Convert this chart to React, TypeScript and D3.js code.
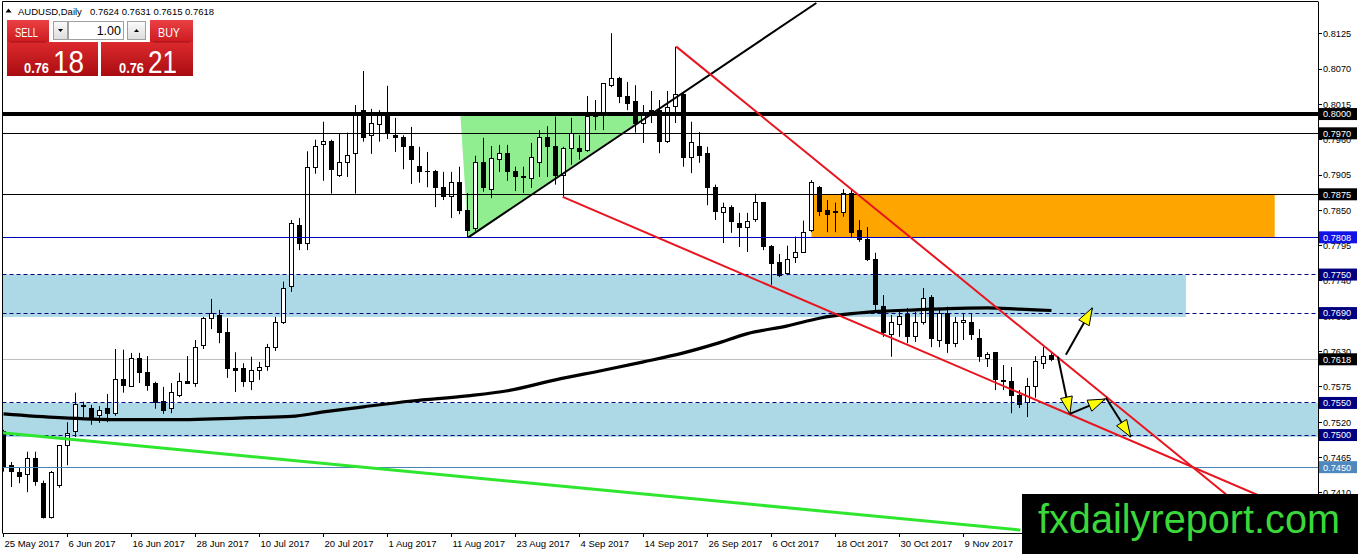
import React from 'react';
import * as d3 from 'd3';

const opens = [
  0.7505, 0.7452, 0.7441, 0.7438, 0.7464, 0.7425, 0.7371, 0.7422, 0.7484, 0.7505,
  0.7544, 0.7542, 0.7530, 0.7541, 0.7534, 0.7587, 0.7575, 0.7619, 0.7598, 0.7580,
  0.7552, 0.7541, 0.7561, 0.7584, 0.7581, 0.7640, 0.7682, 0.7686, 0.7659, 0.7603,
  0.7603, 0.7584, 0.7600, 0.7606, 0.7637, 0.7676, 0.7731, 0.7827, 0.7799, 0.7917,
  0.7953, 0.7957, 0.7905, 0.7924, 0.7938, 0.8005, 0.7967, 0.7983, 0.8000, 0.7966,
  0.7964, 0.7949, 0.7918, 0.7910, 0.7911, 0.7886, 0.7871, 0.7893, 0.7849, 0.7821,
  0.7924, 0.7883, 0.7929, 0.7938, 0.7910, 0.7901, 0.7900, 0.7924, 0.7963, 0.7949,
  0.7904, 0.7946, 0.7946, 0.7943, 0.7996, 0.8003, 0.8045, 0.8056, 0.8027, 0.8019,
  0.7986, 0.8006, 0.8006, 0.7958, 0.8011, 0.8031, 0.7932, 0.7950, 0.7938, 0.7885,
  0.7846, 0.7855, 0.7830, 0.7824, 0.7835, 0.7862, 0.7793, 0.7768, 0.7751, 0.7776,
  0.7785, 0.7818, 0.7886, 0.7849, 0.7847, 0.7846, 0.7877, 0.7818, 0.7804, 0.7773,
  0.7701, 0.7656, 0.7672, 0.7687, 0.7653, 0.7675, 0.7714, 0.7648, 0.7689, 0.7643,
  0.7675, 0.7676, 0.7651, 0.7620, 0.7628, 0.7584, 0.7583, 0.7562, 0.7550, 0.7575,
  0.7612, 0.7624,
];
const highs = [
  0.7508, 0.7458, 0.7449, 0.7474, 0.7474, 0.7429, 0.7444, 0.7484, 0.7520, 0.7566,
  0.7552, 0.7547, 0.7545, 0.7564, 0.7634, 0.7633, 0.7628, 0.7628, 0.7623, 0.7583,
  0.7575, 0.7581, 0.7597, 0.7623, 0.7648, 0.7684, 0.7712, 0.7695, 0.7682, 0.7629,
  0.7612, 0.7622, 0.7614, 0.7642, 0.7684, 0.7739, 0.7835, 0.7838, 0.7942, 0.7960,
  0.7988, 0.7960, 0.7969, 0.7971, 0.8014, 0.8067, 0.8008, 0.8006, 0.8044, 0.7994,
  0.7967, 0.7980, 0.7949, 0.7941, 0.7913, 0.7910, 0.7910, 0.7918, 0.7877, 0.7935,
  0.7963, 0.7950, 0.7952, 0.7952, 0.7918, 0.7918, 0.7955, 0.7975, 0.7981, 0.7996,
  0.7949, 0.7994, 0.7967, 0.8028, 0.8022, 0.8048, 0.8126, 0.8058, 0.8050, 0.8045,
  0.8014, 0.8036, 0.8022, 0.8036, 0.8105, 0.8034, 0.7988, 0.7972, 0.7949, 0.7890,
  0.7862, 0.7858, 0.7846, 0.7846, 0.7876, 0.7863, 0.7796, 0.7782, 0.7795, 0.7809,
  0.7834, 0.7897, 0.7888, 0.7866, 0.7862, 0.7883, 0.7882, 0.7835, 0.7824, 0.7784,
  0.7718, 0.7687, 0.7695, 0.7698, 0.7692, 0.7729, 0.7718, 0.7698, 0.7700, 0.7684,
  0.7690, 0.7690, 0.7665, 0.7629, 0.7629, 0.7609, 0.7606, 0.7570, 0.7589, 0.7623,
  0.7637, 0.7631,
];
const lows = [
  0.7443, 0.7419, 0.7425, 0.7411, 0.7421, 0.7370, 0.7370, 0.7418, 0.7453, 0.7497,
  0.7524, 0.7516, 0.7519, 0.7520, 0.7530, 0.7566, 0.7575, 0.7581, 0.7569, 0.7541,
  0.7533, 0.7534, 0.7559, 0.7580, 0.7575, 0.7634, 0.7665, 0.7643, 0.7589, 0.7567,
  0.7575, 0.7570, 0.7586, 0.7600, 0.7631, 0.7673, 0.7723, 0.7788, 0.7788, 0.7907,
  0.7896, 0.7876, 0.7902, 0.7902, 0.7876, 0.7957, 0.7938, 0.7957, 0.7961, 0.7941,
  0.7914, 0.7891, 0.7893, 0.7886, 0.7855, 0.7866, 0.7838, 0.7844, 0.7807, 0.7818,
  0.7879, 0.7869, 0.7910, 0.7896, 0.7880, 0.7877, 0.7885, 0.7902, 0.7902, 0.7890,
  0.7871, 0.7921, 0.7929, 0.7941, 0.7975, 0.7975, 0.8042, 0.8017, 0.8006, 0.7971,
  0.7955, 0.7986, 0.7939, 0.7955, 0.7986, 0.7918, 0.7908, 0.7924, 0.7858, 0.7835,
  0.7799, 0.7815, 0.7793, 0.7785, 0.7832, 0.7788, 0.7734, 0.7746, 0.7749, 0.7768,
  0.7784, 0.7816, 0.7841, 0.7816, 0.7816, 0.7840, 0.7807, 0.7801, 0.7771, 0.7692,
  0.7653, 0.7622, 0.7653, 0.7643, 0.7645, 0.7672, 0.7637, 0.7637, 0.7628, 0.7637,
  0.7648, 0.7648, 0.7614, 0.7606, 0.7570, 0.7570, 0.7534, 0.7542, 0.7528, 0.7558,
  0.7603, 0.7615,
];
const closes = [
  0.7450, 0.7444, 0.7435, 0.7463, 0.7427, 0.7371, 0.7441, 0.7484, 0.7503, 0.7548,
  0.7546, 0.7527, 0.7538, 0.7533, 0.7586, 0.7577, 0.7620, 0.7597, 0.7577, 0.7550,
  0.7539, 0.7566, 0.7583, 0.7581, 0.7637, 0.7682, 0.7689, 0.7659, 0.7604, 0.7601,
  0.7583, 0.7600, 0.7605, 0.7637, 0.7676, 0.7729, 0.7830, 0.7799, 0.7916, 0.7950,
  0.7957, 0.7914, 0.7924, 0.7935, 0.8003, 0.7964, 0.7985, 0.7999, 0.7969, 0.7964,
  0.7949, 0.7929, 0.7910, 0.7911, 0.7886, 0.7872, 0.7894, 0.7849, 0.7818, 0.7924,
  0.7885, 0.7930, 0.7939, 0.7910, 0.7902, 0.7903, 0.7933, 0.7963, 0.7949, 0.7904,
  0.7946, 0.7969, 0.7941, 0.7996, 0.8000, 0.8048, 0.8056, 0.8027, 0.8017, 0.7986,
  0.7999, 0.8003, 0.7958, 0.8010, 0.8030, 0.7932, 0.7955, 0.7936, 0.7886, 0.7848,
  0.7855, 0.7832, 0.7824, 0.7832, 0.7862, 0.7793, 0.7767, 0.7749, 0.7774, 0.7785,
  0.7816, 0.7893, 0.7848, 0.7843, 0.7848, 0.7877, 0.7815, 0.7804, 0.7774, 0.7703,
  0.7659, 0.7675, 0.7684, 0.7653, 0.7675, 0.7712, 0.7650, 0.7689, 0.7642, 0.7675,
  0.7678, 0.7656, 0.7622, 0.7626, 0.7586, 0.7585, 0.7562, 0.7547, 0.7575, 0.7615,
  0.7623, 0.7618,
];

const dateLabels = ['25 May 2017', '6 Jun 2017', '16 Jun 2017', '28 Jun 2017', '10 Jul 2017', '20 Jul 2017',
  '1 Aug 2017', '11 Aug 2017', '23 Aug 2017', '4 Sep 2017', '14 Sep 2017', '26 Sep 2017', '6 Oct 2017',
  '18 Oct 2017', '30 Oct 2017', '9 Nov 2017'];
const dateBars = [0, 8, 16, 24, 32, 40, 48, 56, 64, 72, 80, 88, 96, 104, 112, 120];

const priceTicks = [0.8125, 0.8070, 0.8015, 0.7960, 0.7905, 0.7850, 0.7795, 0.7740, 0.7685, 0.7630,
  0.7575, 0.7520, 0.7465, 0.7410];

const levelPrices = [0.8000, 0.7970, 0.7875, 0.7808, 0.7750, 0.7690, 0.7618, 0.7550, 0.7500, 0.7450];
const levelKinds = ['thick', 'thin', 'thin', 'blue', 'dash', 'dash', 'bid', 'dash', 'dash', 'steel'];

const maBars = [0, 7, 14, 21, 31, 36, 40, 45, 51, 58, 63, 69, 75, 80, 85, 89, 93, 98, 102, 106, 110, 114, 118, 123, 127, 131];
const maValues = [0.7533, 0.7527, 0.7524, 0.7524, 0.7527, 0.7529, 0.7536, 0.7544, 0.7553, 0.7561, 0.7569, 0.7586,
  0.7601, 0.7614, 0.7628, 0.7642, 0.7658, 0.7670, 0.7682, 0.7689, 0.7693, 0.7695, 0.7697, 0.7698, 0.7696, 0.7694];

// zones: [barFrom, barTo], [priceTop, priceBottom]
const zoneBars = [[-1, 147.8], [-1, 170], [101.0, 158.9]];
const zonePrices = [[0.7750, 0.7684], [0.7550, 0.7497], [0.7875, 0.7808]];
const zoneKinds = ['blue', 'blue', 'orange'];

const triangleBars = [57.1, 58.1, 80.7];
const trianglePrices = [0.8000, 0.7808, 0.8000];

const trendBars = [[58.1, 101.6], [84.1, 158], [69.9, 160.8], [-0.5, 127.1]];
const trendPrices = [[0.7808, 0.8173], [0.8105, 0.7355], [0.7871, 0.7385], [0.7504, 0.7352]];
const trendKinds = ['black', 'red', 'red', 'green'];

const arrowFromBars = [132.8, 131.8, 133.3, 137.8];
const arrowFromPrices = [0.7625, 0.7622, 0.7533, 0.7558];
const arrowToBars = [136.1, 133.3, 137.7, 140.9];
const arrowToPrices = [0.7698, 0.7533, 0.7556, 0.7497];

const FONT = 'Liberation Sans, Arial, sans-serif';

export default function App() {
  const x = d3.scaleLinear().domain([0, 131]).range([3.5, 1051.5]);
  const y = d3.scaleLinear().domain([0.8125, 0.7410]).range([33.8, 492.83]);
  const PL = 2.5, PR = 1318, PT = 1.5, PB = 533;
  const snap = (v: number) => Math.round(v - 0.5) + 0.5;

  const maPath = d3.line<number>()
    .x((_, k) => x(maBars[k]))
    .y((d) => y(d))
    .curve(d3.curveMonotoneX)(maValues) || '';

  const levelStyle: Record<string, any> = {
    thick: { stroke: '#000', width: 4, dash: undefined, label: '#000' },
    thin: { stroke: '#000', width: 1, dash: undefined, label: '#000' },
    blue: { stroke: '#0000c0', width: 1, dash: undefined, label: '#1212e6' },
    dash: { stroke: '#000080', width: 1, dash: '4,3', label: '#000080' },
    bid: { stroke: '#c0c0c0', width: 1, dash: undefined, label: '#000' },
    steel: { stroke: '#4682b4', width: 1, dash: undefined, label: '#4f88bd' },
  };
  const zoneFill: Record<string, string> = { blue: '#add8e6', orange: '#ffa500' };
  const trendStyle: Record<string, any> = {
    black: { stroke: '#000', width: 2 },
    red: { stroke: '#e8141e', width: 2 },
    green: { stroke: '#2ee62e', width: 3 },
  };

  const candles = opens.map((o, i) => {
    const c = closes[i];
    const cx = x(i);
    const top = y(Math.max(o, c));
    const bot = y(Math.min(o, c));
    const bull = c >= o;
    const t = snap(top);
    let b = snap(bot);
    const flat = b - t < 1;
    return (
      <g key={i}>
        <line x1={cx} x2={cx} y1={y(highs[i])} y2={y(lows[i])} stroke="#000" strokeWidth={1} />
        {flat ? (
          <line x1={cx - 2.5} x2={cx + 2.5} y1={t} y2={t} stroke="#000" strokeWidth={1} />
        ) : (
          <rect x={cx - 2} y={t} width={4} height={b - t} fill={bull ? '#fff' : '#000'} stroke="#000" strokeWidth={1} />
        )}
      </g>
    );
  });

  const arrows = arrowFromBars.map((fb, k) => {
    const x1 = x(fb), y1 = y(arrowFromPrices[k]);
    const x2 = x(arrowToBars[k]), y2 = y(arrowToPrices[k]);
    const dx = x2 - x1, dy = y2 - y1;
    const len = Math.hypot(dx, dy);
    const ux = dx / len, uy = dy / len;
    const L = 17, Wd = 6;
    const bx = x2 - ux * L, by = y2 - uy * L;
    const pts = [
      [x2, y2],
      [bx - uy * Wd, by + ux * Wd],
      [bx + uy * Wd, by - ux * Wd],
    ];
    return (
      <g key={k}>
        <line x1={x1} y1={y1} x2={x2} y2={y2} stroke="#000" strokeWidth={2} />
        <polygon points={pts.map((p) => p.join(',')).join(' ')} fill="#ffff00" stroke="#000" strokeWidth={1} />
      </g>
    );
  });

  return (
    <svg width={1358} height={554} style={{ position: 'absolute', left: 0, top: 0, display: 'block', background: '#fff' }}
      fontFamily={FONT}>
      <defs>
        <clipPath id="plot">
          <rect x={PL} y={PT} width={PR - PL} height={PB - PT} />
        </clipPath>
        <linearGradient id="redBox" x1="0" y1="0" x2="0" y2="1">
          <stop offset="0" stopColor="#dc2a2e" />
          <stop offset="1" stopColor="#a90c10" />
        </linearGradient>
        <linearGradient id="redBtn" x1="0" y1="0" x2="0" y2="1">
          <stop offset="0" stopColor="#ea4044" />
          <stop offset="1" stopColor="#cc1c20" />
        </linearGradient>
        <linearGradient id="greyBtn" x1="0" y1="0" x2="0" y2="1">
          <stop offset="0" stopColor="#fbfbfb" />
          <stop offset="1" stopColor="#dcdcdc" />
        </linearGradient>
      </defs>

      <g clipPath="url(#plot)">
        {zoneBars.map((zb, k) => (
          <rect key={k} x={x(zb[0])} width={x(zb[1]) - x(zb[0])} y={y(zonePrices[k][0])}
            height={y(zonePrices[k][1]) - y(zonePrices[k][0])} fill={zoneFill[zoneKinds[k]]} />
        ))}
        <polygon points={triangleBars.map((b, k) => `${x(b)},${y(trianglePrices[k])}`).join(' ')} fill="#90ee90" />

        {levelPrices.map((p, k) => levelKinds[k] === 'bid' ? (
          <line key={k} x1={PL} x2={PR} y1={snap(y(p))} y2={snap(y(p))} stroke={levelStyle.bid.stroke} strokeWidth={1} />
        ) : null)}

        {candles}

        {levelPrices.map((p, k) => {
          const s = levelStyle[levelKinds[k]];
          if (levelKinds[k] === 'bid') return null;
          const yy = s.width === 4 ? y(p) : snap(y(p));
          return <line key={k} x1={PL} x2={PR} y1={yy} y2={yy} stroke={s.stroke} strokeWidth={s.width} strokeDasharray={s.dash} />;
        })}

        <path d={maPath} fill="none" stroke="#000" strokeWidth={3.2} strokeLinejoin="round" />

        {trendBars.map((tb, k) => {
          const s = trendStyle[trendKinds[k]];
          return <line key={k} x1={x(tb[0])} y1={y(trendPrices[k][0])} x2={x(tb[1])} y2={y(trendPrices[k][1])}
            stroke={s.stroke} strokeWidth={s.width} />;
        })}

        {arrows}
      </g>

      {/* frame & axes */}
      <line x1={PL} x2={PR} y1={PT} y2={PT} stroke="#000" strokeWidth={1} />
      <line x1={PL} x2={PL} y1={PT} y2={PB} stroke="#000" strokeWidth={1} />
      <line x1={PR + 0.5} x2={PR + 0.5} y1={PT} y2={PB + 4} stroke="#000" strokeWidth={1} />
      <line x1={PL} x2={PR + 0.5} y1={PB + 0.5} y2={PB + 0.5} stroke="#000" strokeWidth={1} />

      {priceTicks.map((p, k) => (
        <g key={k}>
          <line x1={PR + 0.5} x2={PR + 4} y1={snap(y(p))} y2={snap(y(p))} stroke="#000" strokeWidth={1} />
          <text x={1323} y={y(p) + 3.3} fontSize={9.2} fill="#000">{p.toFixed(4)}</text>
        </g>
      ))}

      {dateBars.map((b, k) => (
        <g key={k}>
          <line x1={x(b)} x2={x(b)} y1={PB + 0.5} y2={PB + 4} stroke="#000" strokeWidth={1} />
          <text x={x(b) + 1} y={546.5} fontSize={9.5} fill="#000">{dateLabels[k]}</text>
        </g>
      ))}

      {levelPrices.map((p, k) => {
        const s = levelStyle[levelKinds[k]];
        const cy = y(p);
        return (
          <g key={k}>
            <rect x={1319} y={cy - 6} width={38} height={12} fill={s.label} />
            <text x={1323} y={cy + 3.4} fontSize={9.2} fill="#fff">{p.toFixed(4)}</text>
          </g>
        );
      })}

      {/* header */}
      <path d="M5.5,12.5 L8.5,8.5 L11.5,12.5 Z" fill="#000" />
      <text x={18} y={14.5} fontSize={9.5} fill="#000">AUDUSD,Daily</text>
      <text x={90} y={14.5} fontSize={9.5} fill="#000">
        {[opens[131], highs[131], lows[131], closes[131]].map((v) => v.toFixed(4)).join(' ')}
      </text>

      {/* trade panel */}
      <rect x={7} y={20} width={42} height={22} fill="url(#redBtn)" />
      <rect x={7} y={42} width={91} height={34} fill="url(#redBox)" />
      <line x1={10} x2={46} y1={42} y2={42} stroke="#a01014" strokeWidth={1} />
      <rect x={150} y={20} width={43} height={22} fill="url(#redBtn)" />
      <rect x={101} y={42} width={92} height={34} fill="url(#redBox)" />
      <line x1={153} x2={190} y1={42} y2={42} stroke="#a01014" strokeWidth={1} />
      <rect x={53.5} y={21.5} width={14} height={18} fill="url(#greyBtn)" stroke="#a0a0a0" />
      <path d="M58,29 L63,29 L60.5,32 Z" fill="#000" />
      <rect x={68.5} y={21.5} width={55} height={18} fill="#fff" stroke="#a0a0a0" />
      <text x={121} y={35} fontSize={12.5} textAnchor="end" fill="#000">1.00</text>
      <rect x={127.5} y={21.5} width={18} height={18} fill="url(#greyBtn)" stroke="#a0a0a0" />
      <path d="M134,32 L139,32 L136.5,29 Z" fill="#000" />
      <text x={15} y={36.5} fontSize={13} fill="#fff" textLength={23} lengthAdjust="spacingAndGlyphs">SELL</text>
      <text x={158} y={36.5} fontSize={13} fill="#fff" textLength={22} lengthAdjust="spacingAndGlyphs">BUY</text>
      <text x={24} y={73} fontSize={15} fontWeight="bold" fill="#fff" textLength={25} lengthAdjust="spacingAndGlyphs">0.76</text>
      <text x={53} y={73.3} fontSize={32} fill="#fff" textLength={31} lengthAdjust="spacingAndGlyphs">18</text>
      <text x={119} y={73} fontSize={15} fontWeight="bold" fill="#fff" textLength={25} lengthAdjust="spacingAndGlyphs">0.76</text>
      <text x={148} y={73.3} fontSize={32} fill="#fff" textLength={29} lengthAdjust="spacingAndGlyphs">21</text>

      {/* logo */}
      <rect x={1022} y={494} width={336} height={60} fill="#000" />
      <text x={1038} y={533} fontSize={40} fill="#3ad83a" textLength={302} lengthAdjust="spacingAndGlyphs">fxdailyreport.com</text>
    </svg>
  );
}
